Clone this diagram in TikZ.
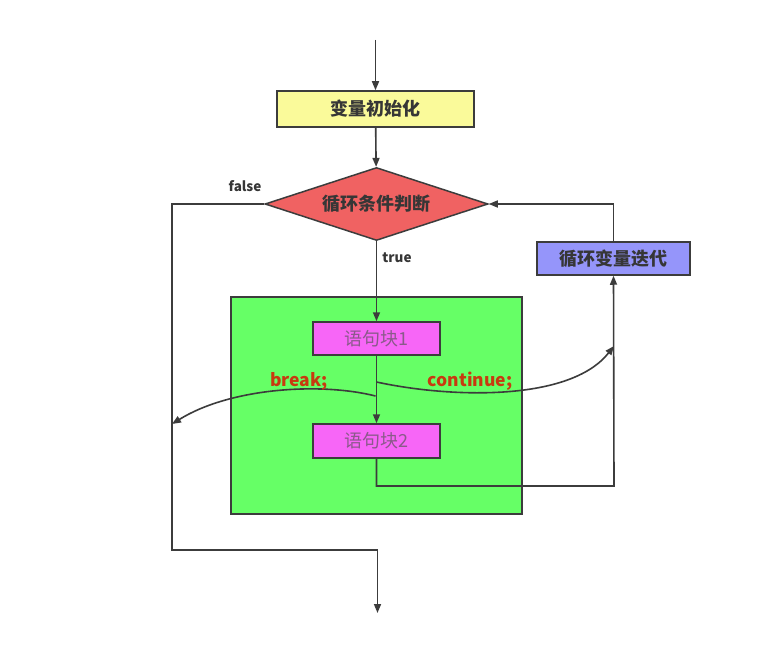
\documentclass[tikz,border=0pt]{standalone}
\usepackage{fontspec}
\setmainfont{Noto Sans CJK SC}
\usetikzlibrary{shapes.geometric,arrows.meta}
\definecolor{lineC}{HTML}{3C3C3C}
\definecolor{textC}{HTML}{363636}
\definecolor{yellowC}{HTML}{FAFA9A}
\definecolor{redC}{HTML}{F06262}
\definecolor{greenC}{HTML}{66FF66}
\definecolor{magC}{HTML}{F766F7}
\definecolor{blueC}{HTML}{9595FA}
\definecolor{softC}{HTML}{8A5A8A}
\definecolor{lblC}{HTML}{C83A10}
\begin{document}
\begin{tikzpicture}[x=1pt,y=-1pt,
  box/.style={draw=lineC, line width=1.5pt, inner sep=0pt, font=\fontsize{18}{21}\selectfont\bfseries, text=textC},
  arr/.style={draw=lineC, line width=1.6pt, -{Triangle[length=9pt,width=7pt]}},
  lbl/.style={font=\fontsize{13.5}{15}\selectfont\bfseries, text=textC, inner sep=0pt},
  kw/.style={font=\fontsize{17.5}{19}\selectfont\bfseries, text=lblC, inner sep=0pt}]
\useasboundingbox (0,0) rectangle (771,658);
\fill[white] (0,0) rectangle (771,658);

\node[box, fill=yellowC, minimum width=197pt, minimum height=36pt] (init) at (375.5,109) {变量初始化};
\node[diamond, draw=lineC, line width=1.5pt, fill=redC, minimum width=223pt, minimum height=73pt, aspect=3.05, inner sep=0pt, font=\fontsize{18}{21}\selectfont\bfseries, text=textC] (cond) at (376.5,204) {循环条件判断};
\node[draw=lineC, line width=1.5pt, fill=greenC, minimum width=291pt, minimum height=217pt] (body) at (376.5,405.5) {};
\node[box, fill=magC, minimum width=127pt, minimum height=33pt, font=\fontsize{18}{21}\selectfont, text=softC] (b1) at (376.5,338.5) {语句块1};
\node[box, fill=magC, minimum width=127pt, minimum height=34pt, font=\fontsize{18}{21}\selectfont, text=softC] (b2) at (376.5,441) {语句块2};
\node[box, fill=blueC, minimum width=153pt, minimum height=33pt] (iter) at (613.5,258.5) {循环变量迭代};

\coordinate (start) at (375.5,40);
\coordinate (loopR) at (614,486);
\coordinate (fL) at (172,550);
\coordinate (finish) at (377.5,613);
\coordinate (brk) at (375.5,396);
\coordinate (brkEnd) at (172,424);
\coordinate (cnt) at (376.5,382);
\coordinate (cntEnd) at (614,346);

\draw[arr] (start) -- (init);
\draw[arr] (init) -- (cond);
\draw[arr] (cond) -- (b1);
\draw[arr] (b1) -- (b2);
\draw[arr] (b2.south) |- (loopR) -- (iter.south);
\draw[arr] (iter.north) |- (cond.east);
\draw[arr] (cond.west) -| (fL) -| (finish);
\draw[arr] (brk) .. controls (320,382) and (230,388) .. (brkEnd);
\draw[arr] (cnt) .. controls (450,398) and (570,402) .. (cntEnd);

\node[lbl] (lfalse) at (245,186) {false};
\node[lbl] (ltrue) at (397,258) {true};
\node[kw] (lbreak) at (299,381) {break;};
\node[kw] (lcont) at (470,381) {continue;};
\end{tikzpicture}
\end{document}
